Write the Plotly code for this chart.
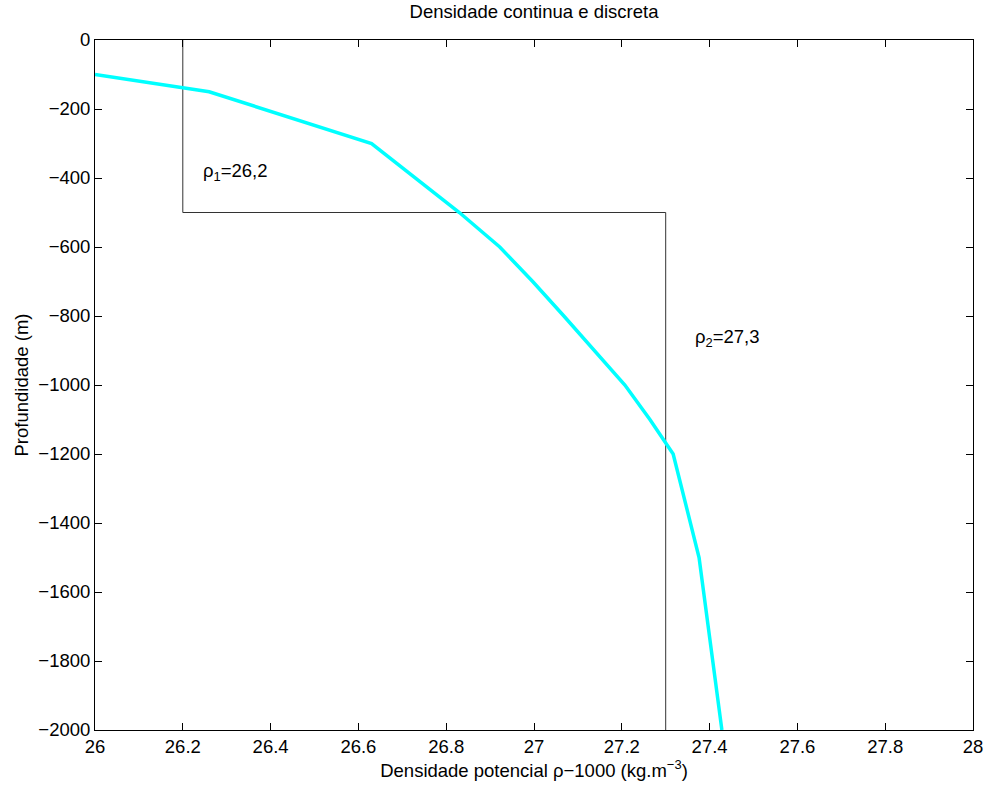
import plotly.graph_objects as go

# Continuous density profile
rho_cont = [26.0, 26.26, 26.63, 26.73, 26.83, 26.922, 26.997, 27.068, 27.138, 27.207, 27.264, 27.317, 27.376, 27.428]
depth_cont = [-100, -150, -300, -400, -500, -600, -700, -800, -900, -1000, -1100, -1200, -1500, -2000]

# Discrete (two-layer) profile
rho_disc = [26.2, 26.2, 27.3, 27.3]
depth_disc = [0, -500, -500, -2000]

x_ticks = [26, 26.2, 26.4, 26.6, 26.8, 27, 27.2, 27.4, 27.6, 27.8, 28]
x_tick_labels = ["26", "26.2", "26.4", "26.6", "26.8", "27", "27.2", "27.4", "27.6", "27.8", "28"]
y_ticks = [0, -200, -400, -600, -800, -1000, -1200, -1400, -1600, -1800, -2000]
y_tick_labels = ["0"] + ["\u2212" + str(-v) for v in y_ticks[1:]]

labels = ["\u03c1<sub>1</sub>=26,2", "\u03c1<sub>2</sub>=27,3"]
label_x = [26.241, 27.362]
label_y = [-383, -865]

FS = 18.5

fig = go.Figure()
fig.add_trace(go.Scatter(x=rho_disc, y=depth_disc, mode="lines",
                         line=dict(color="#333333", width=1), showlegend=False))
fig.add_trace(go.Scatter(x=rho_cont, y=depth_cont, mode="lines",
                         line=dict(color="#00ffff", width=3.5), showlegend=False))

for t, xx, yy in zip(labels, label_x, label_y):
    fig.add_annotation(x=xx, y=yy, text=t, showarrow=False, xanchor="left", yanchor="middle",
                       font=dict(size=FS, color="black"))

axis_common = dict(showgrid=False, zeroline=False, showline=True, linecolor="black", linewidth=1,
                   mirror="ticks", ticks="inside", ticklen=7, tickcolor="black",
                   automargin=False, ticklabeloverflow="allow",
                   tickfont=dict(size=FS, color="black"))

fig.update_layout(
    width=984, height=787,
    margin=dict(l=95, r=11, t=40, b=57),
    paper_bgcolor="white", plot_bgcolor="white",
    font=dict(family="Liberation Sans, Arial, sans-serif", color="black"),
    title=dict(text="Densidade continua e discreta", x=0.5, xref="paper", xanchor="center",
               y=0.993, yref="container", yanchor="top", font=dict(size=FS)),
    xaxis=dict(range=[26, 28], tickvals=x_ticks, ticktext=x_tick_labels,
               title=dict(text="Densidade potencial \u03c1\u22121000 (kg.m<sup>\u22123</sup>)", font=dict(size=FS), standoff=4),
               **axis_common),
    yaxis=dict(range=[-2000, 0], tickvals=y_ticks, ticktext=y_tick_labels,
               title=dict(text="Profundidade (m)", font=dict(size=FS), standoff=4),
               **axis_common),
)

fig.write_html("out.html")
